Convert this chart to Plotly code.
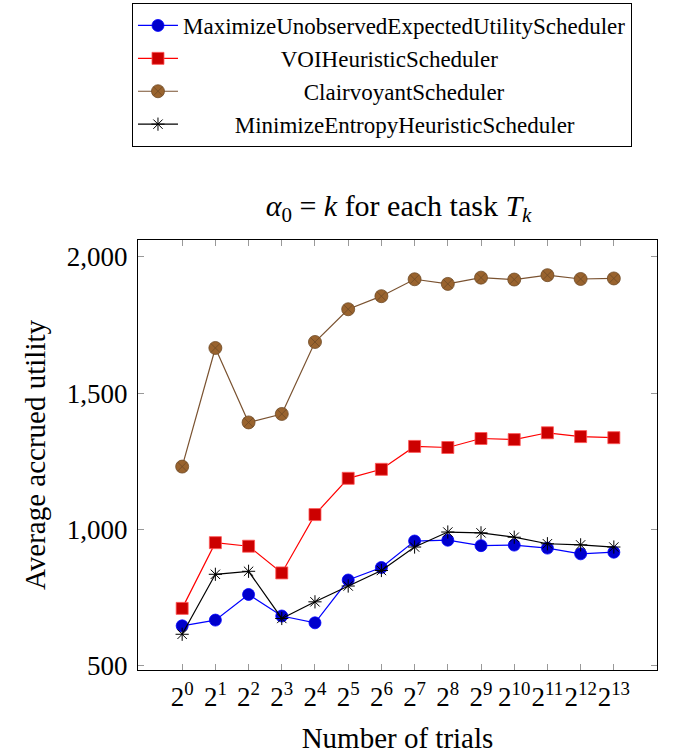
import plotly.graph_objects as go

x_idx = list(range(14))
x_labels = [f"2<sup>{i}</sup>" for i in range(14)]

series_names = [
    "MaximizeUnobservedExpectedUtilityScheduler",
    "VOIHeuristicScheduler",
    "ClairvoyantScheduler",
    "MinimizeEntropyHeuristicScheduler",
]
maximize_unobserved = [647, 668, 762, 683, 658, 815, 861, 958, 961, 941, 943, 932, 911, 917]
voi_heuristic = [711, 952, 939, 841, 1055, 1188, 1221, 1305, 1301, 1334, 1330, 1355, 1341, 1337]
clairvoyant = [1231, 1666, 1393, 1424, 1688, 1808, 1856, 1918, 1901, 1924, 1917, 1933, 1919, 1921]
min_entropy = [616, 836, 847, 674, 735, 793, 850, 936, 991, 988, 972, 948, 944, 936]

y_ticks = [500, 1000, 1500, 2000]
y_tick_text = ["500", "1,000", "1,500", "2,000"]

FONT = "Liberation Serif"
# leading non-breaking spaces to mimic centred legend text
pad = [0, 17, 21, 9]
legend_names = ["\u00a0" * p + n for p, n in zip(pad, series_names)]

fig = go.Figure()
fig.add_trace(go.Scatter(
    x=x_idx, y=maximize_unobserved, mode="lines+markers",
    name=legend_names[0], legendgroup="a",
    line=dict(color="#0000FF", width=1.2),
    marker=dict(symbol="circle", size=12, color="#0000CC", line=dict(color="#0000FF", width=0.8)),
))
fig.add_trace(go.Scatter(
    x=x_idx, y=voi_heuristic, mode="lines+markers",
    name=legend_names[1], legendgroup="b",
    line=dict(color="#FF0000", width=1.2),
    marker=dict(symbol="square", size=12, color="#CC0000", line=dict(color="#FF5555", width=0.8)),
))
fig.add_trace(go.Scatter(
    x=x_idx, y=clairvoyant, mode="lines+markers",
    name=legend_names[2], legendgroup="c",
    line=dict(color="#7A5230", width=1.2),
    marker=dict(symbol="circle-x", size=13, color="#99632E", line=dict(color="#6E4A26", width=0.8)),
))
fig.add_trace(go.Scatter(
    x=x_idx, y=min_entropy, mode="lines+markers",
    name=legend_names[3], legendgroup="d",
    line=dict(color="#000000", width=1.2),
    marker=dict(symbol="asterisk-open", size=11, color="#000000", line=dict(color="#000000", width=1)),
))

fig.update_layout(
    width=683, height=754,
    margin=dict(l=138, r=26, t=240, b=84, autoexpand=False),
    paper_bgcolor="white", plot_bgcolor="white",
    font=dict(family=FONT, color="black", size=22),
    title=dict(
        text="<i>α</i><sub>0</sub> = <i>k</i> for each task <i>T<sub>k</sub></i>",
        x=0.5835, xanchor="center", y=1 - 205 / 754, yanchor="middle",
        font=dict(family=FONT, size=30, color="black"),
    ),
    legend=dict(
        x=-0.0116, xanchor="left", y=1 + (240 - 3) / 430, yanchor="top",
        bordercolor="black", borderwidth=1, bgcolor="white",
        font=dict(family=FONT, size=23, color="black"),
        traceorder="grouped", tracegroupgap=0, itemwidth=40,
    ),
    showlegend=True,
)

fig.update_xaxes(
    range=[-1.33, 14.3], automargin=False,
    tickmode="array", tickvals=x_idx, ticktext=x_labels, tickangle=0,
    ticks="inside", ticklen=6, tickcolor="#999999", tickwidth=1,
    showline=True, linecolor="black", linewidth=1, mirror="allticks",
    showgrid=False, zeroline=False, ticklabelstandoff=3,
    tickfont=dict(family=FONT, size=27),
    title=dict(text="Number of trials", font=dict(family=FONT, size=29), standoff=16),
)
fig.update_yaxes(
    range=[485, 2062], automargin=False,
    tickmode="array", tickvals=y_ticks, ticktext=y_tick_text,
    ticks="inside", ticklen=6, tickcolor="#999999", tickwidth=1,
    showline=True, linecolor="black", linewidth=1, mirror="allticks",
    showgrid=False, zeroline=False, ticklabelstandoff=4,
    tickfont=dict(family=FONT, size=27),
    title=dict(text="Average accrued utility", font=dict(family=FONT, size=29), standoff=12),
)

fig.write_html("out.html")
